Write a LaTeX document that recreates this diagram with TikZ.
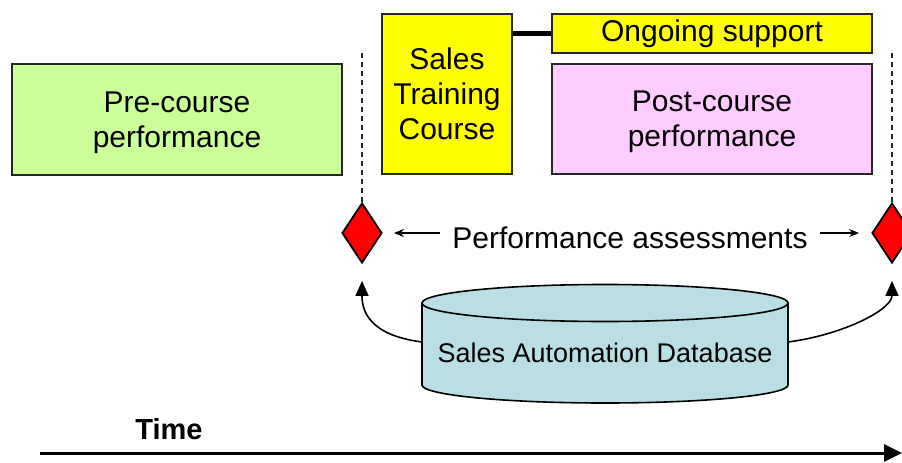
\documentclass[tikz,border=0pt]{standalone}
\usepackage{fontspec}
\setmainfont{Liberation Sans}
\usetikzlibrary{shapes.geometric,arrows.meta}
\definecolor{pregreen}{HTML}{CCFF99}
\definecolor{trainyellow}{HTML}{FFFF00}
\definecolor{postpink}{HTML}{FFCCFF}
\definecolor{dbteal}{HTML}{B9DFE4}
\begin{document}
\begin{tikzpicture}[x=1pt,y=-1pt,
    box/.style={draw=black!85,line width=1.8pt,align=center,inner sep=0pt,
      font=\fontsize{30}{35}\selectfont},
    marker/.style={diamond,draw=black,fill=red,line width=1.8pt,
      minimum width=40pt,minimum height=60pt,inner sep=0pt},
    guide/.style={draw=black!85,line width=1.8pt,dash pattern=on 5pt off 4pt}]
    \useasboundingbox (0,0) rectangle (902,463);
    %(boxes)
    \node[box,fill=pregreen,minimum width=330pt,minimum height=111pt,text height=62pt] (pre) at (177,119.5) {Pre-course\\performance};
    \node[box,fill=trainyellow,minimum width=130pt,minimum height=160pt] (stc) at (447,94) {Sales\\Training\\Course};
    \node[box,fill=trainyellow,minimum width=320pt,minimum height=39pt] (os) at (712,33.5) {Ongoing support};
    \node[box,fill=postpink,minimum width=320pt,minimum height=110pt,text height=62pt] (post) at (712,119) {Post-course\\performance};
    \draw[line width=5pt] (stc.east |- os.west) -- (os.west);
    %(assessments)
    \node[marker] (dL) at (362,233) {};
    \node[marker] (dR) at (892,233) {};
    \coordinate (gL) at (362,53);
    \coordinate (gR) at (892,53);
    \draw[guide] (gL) -- (dL.north);
    \draw[guide] (gR) -- (dR.north);
    \node[font=\fontsize{30}{35}\selectfont,inner xsep=12pt] (pa) at (630,238) {Performance assessments};
    \draw[-{Stealth[length=10pt,width=8pt]},line width=1.2pt,shorten >=11pt] (dL.east -| pa.west) -- (dL.east);
    \draw[-{Stealth[length=10pt,width=8pt]},line width=1.2pt,shorten >=12pt] (dR.west -| pa.east) -- (dR.west);
    %(database)
    \fill[dbteal] (422,303) -- (422,385) arc[start angle=180,end angle=0,x radius=183,y radius=18] -- (788,303) -- cycle;
    \draw[line width=1.6pt] (422,303) -- (422,385) arc[start angle=180,end angle=0,x radius=183,y radius=18] -- (788,303);
    \draw[fill=dbteal,line width=1.6pt] (605,303) ellipse[x radius=183,y radius=18.5];
    \node[font=\fontsize{27}{32}\selectfont] (db) at (605,353) {Sales Automation Database};
    \coordinate (dbL) at (422,342);
    \coordinate (dbR) at (788,342);
    \draw[-{Triangle[length=15pt,width=13pt]},line width=1.6pt,shorten >=17pt] (dbL) .. controls (368,335) and (362,310) .. (dL.south);
    \draw[-{Triangle[length=15pt,width=13pt]},line width=1.6pt,shorten >=17pt] (dbR) .. controls (842,335) and (892,310) .. (dR.south);
    %(time)
    \node[font=\fontsize{29}{34}\selectfont\bfseries] (time) at (169,429) {Time};
    \coordinate (t0) at (40,453);
    \coordinate (t1) at (902,453);
    \draw[-{Triangle[length=18pt,width=17pt]},line width=3pt] (t0) -- (t1);
\end{tikzpicture}
\end{document}
